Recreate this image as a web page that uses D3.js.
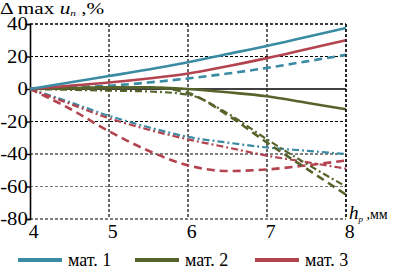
<!DOCTYPE html>
<html>
<head>
<meta charset="utf-8">
<script src="https://cdn.jsdelivr.net/npm/d3@7"></script>
</head>
<body style="margin:0">
<div id="chart"></div>
<script>
var width = 395, height = 274;

// values, % at h_p = 4, 4.5, ... 8 mm
var hp = [4, 4.5, 5, 5.5, 6, 6.5, 7, 7.5, 8];
var mat1Solid = [0, 4, 8, 12, 16.5, 21.5, 26.5, 32, 37.5];
var mat1Dash = [0, 1, 2, 4, 6.5, 9.5, 13, 17, 21];
var mat1DashDot = [0, -8, -16.5, -23.5, -29.5, -33, -36, -38, -40];
var mat2Solid = [0, 0.5, 1, 1, 0, -2, -4.5, -8.5, -12.5];
var mat2Dash = [0, 0.5, 1, 1, -2.5, -16, -33, -49, -65];
var mat2DashDot = [0, -0.5, -1, -1.5, -3.5, -15, -31, -46, -60];
var mat3Solid = [0, 2, 4, 6.5, 9.5, 14, 19, 24.5, 30];
var mat3Dash = [0, -12, -26, -38, -47, -50.5, -49.5, -47, -44];
var mat3DashDot = [0, -9, -18, -25, -31, -36, -41, -45, -49];

var xTicks = [4, 5, 6, 7, 8];
var yTicks = [40, 20, 0, -20, -40, -60, -80];
var matNames = ["мат. 1", "мат. 2", "мат. 3"];
var matColors = ["#3a8ba3", "#56642c", "#b2434f"];
var serif = "Liberation Serif";

var svg = d3.select("#chart").append("svg")
    .attr("width", width)
    .attr("height", height);

var x = d3.scaleLinear().domain([4, 8]).range([30, 346]);
var y = d3.scaleLinear().domain([-80, 40]).range([219, 24]);

// grid
var grid = svg.append("g");
grid.selectAll(".vg").data(xTicks.slice(1))
    .enter().append("line")
    .attr("x1", d => x(d)).attr("x2", d => x(d))
    .attr("y1", y(40)).attr("y2", y(-80))
    .attr("stroke", "#000").attr("stroke-width", 1.2)
    .attr("stroke-dasharray", "3,2");
grid.selectAll(".hg").data(yTicks.filter(d => d != 0))
    .enter().append("line")
    .attr("x1", x(4)).attr("x2", x(8))
    .attr("y1", d => y(d)).attr("y2", d => y(d))
    .attr("stroke", d => d == -60 ? "#777" : "#000").attr("stroke-width", 1.2)
    .attr("stroke-dasharray", "3,2");
// zero line
svg.append("line")
    .attr("x1", x(4)).attr("x2", x(8))
    .attr("y1", y(0)).attr("y2", y(0))
    .attr("stroke", "#000").attr("stroke-width", 1.3);

// y axis (labels a bit stretched, like the scanned original)
var yAxis = d3.axisLeft(y).tickValues(yTicks).tickSize(4).tickFormat(d => d < 0 ? "-" + Math.abs(d) : d);
var gy = svg.append("g").attr("transform", "translate(" + x(4) + ",0)").call(yAxis)
    .attr("font-family", serif).attr("font-size", 18);
gy.select(".domain").attr("stroke-width", 1.6);
gy.selectAll(".tick line").attr("stroke-width", 1.4);
gy.selectAll("text").attr("x", -2).attr("fill", "#000")
    .attr("transform", "scale(1.15,1)");

// x axis labels
var xAxis = d3.axisBottom(x).tickValues(xTicks).tickSize(0).tickFormat(d3.format("d"));
var gx = svg.append("g").attr("transform", "translate(0," + y(-80) + ")").call(xAxis)
    .attr("font-family", serif).attr("font-size", 18);
gx.select(".domain").remove();
gx.selectAll("text").attr("dy", "0.75em").attr("y", 6)
    .attr("dx", 3).attr("fill", "#000")
    .attr("transform", "scale(1.1,1)");

var line = d3.line()
    .x((d, i) => x(hp[i]))
    .y(d => y(d))
    .curve(d3.curveMonotoneX);

var series = [
    {v: mat1DashDot, c: 0, dash: "7,3,2,3", w: 2.2},
    {v: mat3DashDot, c: 2, dash: "7,3,2,3", w: 2.2},
    {v: mat2DashDot, c: 1, dash: "7,3,2,3", w: 2.2},
    {v: mat1Dash, c: 0, dash: "8,5", w: 2.6},
    {v: mat3Dash, c: 2, dash: "8,5", w: 2.6},
    {v: mat2Dash, c: 1, dash: "8,5", w: 2.6},
    {v: mat2Solid, c: 1, dash: null, w: 2.6},
    {v: mat3Solid, c: 2, dash: null, w: 2.6},
    {v: mat1Solid, c: 0, dash: null, w: 2.6}
];

svg.append("g").selectAll("path").data(series)
    .enter().append("path")
    .attr("d", d => line(d.v))
    .attr("fill", "none")
    .attr("stroke", d => matColors[d.c])
    .attr("stroke-width", d => d.w)
    .attr("stroke-dasharray", d => d.dash);

// top and right frame
svg.append("line").attr("x1", x(4)).attr("x2", x(8)).attr("y1", y(40)).attr("y2", y(40))
    .attr("stroke", "#000").attr("stroke-width", 1.2).attr("stroke-dasharray", "3,2");
svg.append("line").attr("x1", x(8)).attr("x2", x(8)).attr("y1", y(40)).attr("y2", y(-80))
    .attr("stroke", "#000").attr("stroke-width", 1.2).attr("stroke-dasharray", "3,2");

// y title
var yt = svg.append("text").attr("transform", "translate(0,14) scale(1.25,1)")
    .attr("font-size", 17).attr("font-family", serif);
yt.append("tspan").text("Δ max ");
yt.append("tspan").attr("font-style", "italic").text("u");
yt.append("tspan").attr("font-style", "italic").attr("font-size", 9).attr("dy", 2).text("n");
yt.append("tspan").attr("dy", -2).text(" ,%");

// x title
var xt = svg.append("text").attr("x", 349).attr("y", 219).attr("font-size", 19)
    .attr("font-family", serif);
xt.append("tspan").attr("font-style", "italic").text("h");
xt.append("tspan").attr("font-style", "italic").attr("font-size", 9).attr("dy", 3).text("p");
xt.append("tspan").attr("dy", -3).attr("font-size", 14).text(" ,мм");

// legend
var legend = svg.append("g").selectAll("g").data(matNames)
    .enter().append("g")
    .attr("transform", (d, i) => "translate(" + [18, 135, 255][i] + ",260)");
legend.append("line")
    .attr("x1", 0).attr("x2", 44).attr("y1", 0).attr("y2", 0)
    .attr("stroke", (d, i) => matColors[i]).attr("stroke-width", 4);
legend.append("text")
    .attr("x", 50).attr("y", 6).attr("font-size", 18)
    .attr("font-family", serif)
    .text(d => d);
</script>
</body>
</html>
